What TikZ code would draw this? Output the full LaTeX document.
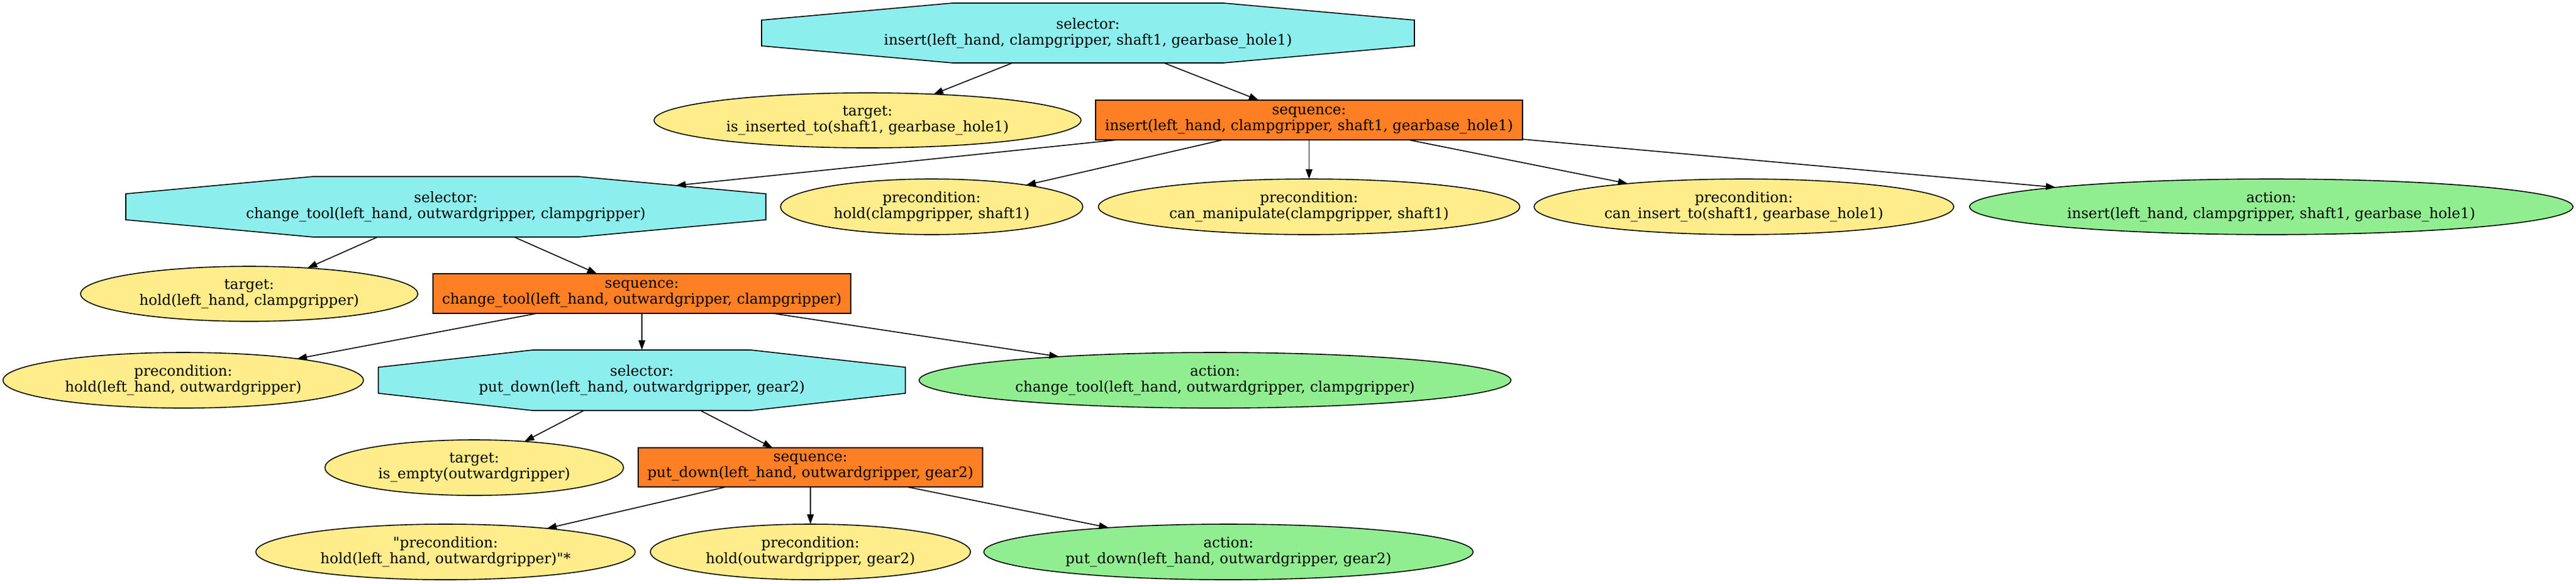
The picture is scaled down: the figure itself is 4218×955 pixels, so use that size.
\documentclass[tikz,border=0pt]{standalone}
\usepackage{fontspec}
\newfontfamily\gvfont{DejaVu Serif}
\usepackage{xcolor}
\usepackage{tikz}
\usetikzlibrary{shapes.geometric}
\usetikzlibrary{arrows.meta}
\usetikzlibrary{calc}
\usetikzlibrary{backgrounds}
\definecolor{selcyan}{HTML}{8DEEEE}
\definecolor{seqorange}{HTML}{FF7F24}
\definecolor{condyellow}{HTML}{FFEC8B}
\definecolor{actgreen}{HTML}{90EE90}
\newcommand\octback[1]{
  \begin{scope}[on background layer]
    \coordinate (#1-ne) at ($(#1.north)!0.415!(#1.north east)$);
    \coordinate (#1-en) at ($(#1.east)!0.43!(#1.north east)$);
    \filldraw[fill=selcyan, draw=black, line width=0.8pt] ($(#1.north)!0.415!(#1.north west)$) -- (#1-ne) -- (#1-en)
      -- ($(#1.east)!0.43!(#1.south east)$) -- ($(#1.south)!0.415!(#1.south east)$)
      -- ($(#1.south)!0.415!(#1.south west)$) -- ($(#1.west)!0.43!(#1.south west)$)
      -- ($(#1.west)!0.43!(#1.north west)$) -- cycle;
  \end{scope}
}

\begin{document}
\begin{tikzpicture}[x=0.5pt, y=-0.5pt, line width=0.8pt,
    >={Triangle[length=8pt,width=5.5pt]},
    every node/.style={font=\gvfont\fontsize{11.85}{13}\selectfont, align=center, inner sep=0pt, outer sep=0pt},
    selnode/.style={rectangle},
    seqnode/.style={rectangle, draw, fill=seqorange},
    tgtnode/.style={ellipse, draw, fill=condyellow},
    prenode/.style={ellipse, draw, fill=condyellow},
    actnode/.style={ellipse, draw, fill=actgreen}]
  \useasboundingbox (0,0) rectangle (4218,955);
  % top level
  \node[selnode, minimum width=534.5pt, minimum height=49pt] (sel1) at (1781.5,54) {selector:\\insert(left\_hand, clampgripper, shaft1, gearbase\_hole1)};
  \octback{sel1}
  \node[tgtnode, minimum width=349.5pt, minimum height=45pt] (tgt1) at (1420.5,197) {target:\\is\_inserted\_to(shaft1, gearbase\_hole1)};
  \node[seqnode, minimum width=349.5pt, minimum height=32.5pt] (seq1) at (2143.5,196.5) {sequence:\\insert(left\_hand, clampgripper, shaft1, gearbase\_hole1)};
  % change_tool
  \node[selnode, minimum width=524pt, minimum height=49.5pt] (sel2) at (730,338.5) {selector:\\change\_tool(left\_hand, outwardgripper, clampgripper)};
  \octback{sel2}
  \node[prenode, minimum width=247.5pt, minimum height=45.5pt] (pre1) at (1525.5,338.5) {precondition:\\hold(clampgripper, shaft1)};
  \node[prenode, minimum width=345pt, minimum height=45.5pt] (pre2) at (2143.5,338.5) {precondition:\\can\_manipulate(clampgripper, shaft1)};
  \node[prenode, minimum width=343.5pt, minimum height=45.5pt] (pre3) at (2855.5,338.5) {precondition:\\can\_insert\_to(shaft1, gearbase\_hole1)};
  \node[actnode, minimum width=494pt, minimum height=45.5pt] (act1) at (3719,338.5) {action:\\insert(left\_hand, clampgripper, shaft1, gearbase\_hole1)};
  \node[tgtnode, minimum width=276pt, minimum height=45pt] (tgt2) at (408,481) {target:\\hold(left\_hand, clampgripper)};
  \node[seqnode, minimum width=342pt, minimum height=32.5pt] (seq2) at (1051,480.5) {sequence:\\change\_tool(left\_hand, outwardgripper, clampgripper)};
  % put_down
  \node[prenode, minimum width=295pt, minimum height=45.5pt] (pre4) at (300,622.5) {precondition:\\hold(left\_hand, outwardgripper)};
  \node[selnode, minimum width=431.5pt, minimum height=49.5pt] (sel3) at (1051,622.5) {selector:\\put\_down(left\_hand, outwardgripper, gear2)};
  \octback{sel3}
  \node[actnode, minimum width=484.5pt, minimum height=45.5pt] (act2) at (1989.5,622.5) {action:\\change\_tool(left\_hand, outwardgripper, clampgripper)};
  \node[tgtnode, minimum width=244.5pt, minimum height=45.5pt] (tgt3) at (776.5,765.5) {target:\\is\_empty(outwardgripper)};
  \node[seqnode, minimum width=282pt, minimum height=32pt] (seq3) at (1327,765) {sequence:\\put\_down(left\_hand, outwardgripper, gear2)};
  \node[prenode, minimum width=310.5pt, minimum height=45.5pt] (pre5) at (729.5,903.5) {"precondition:\\hold(left\_hand, outwardgripper)"*};
  \node[prenode, minimum width=262pt, minimum height=45.5pt] (pre6) at (1327,903.5) {precondition:\\hold(outwardgripper, gear2)};
  \node[actnode, minimum width=400.5pt, minimum height=45.5pt] (act3) at (2011.5,903.5) {action:\\put\_down(left\_hand, outwardgripper, gear2)};
  % arrows
  \draw[->] (sel1) -- (tgt1);
  \draw[->] (sel1) -- (seq1);
  \draw[->] (seq1) -- ($(sel2-ne)!0.52!(sel2-en)$);
  \draw[->] (seq1) -- (pre1);
  \draw[->] (seq1) -- (pre2);
  \draw[->] (seq1) -- (pre3);
  \draw[->] (seq1) -- (act1);
  \draw[->] (sel2) -- (tgt2);
  \draw[->] (sel2) -- (seq2);
  \draw[->] (seq2) -- (pre4);
  \draw[->] (seq2) -- (sel3);
  \draw[->] (seq2) -- (act2);
  \draw[->] (sel3) -- (tgt3);
  \draw[->] (sel3) -- (seq3);
  \draw[->] (seq3) -- (pre5);
  \draw[->] (seq3) -- (pre6);
  \draw[->] (seq3) -- (act3);
\end{tikzpicture}
\end{document}
